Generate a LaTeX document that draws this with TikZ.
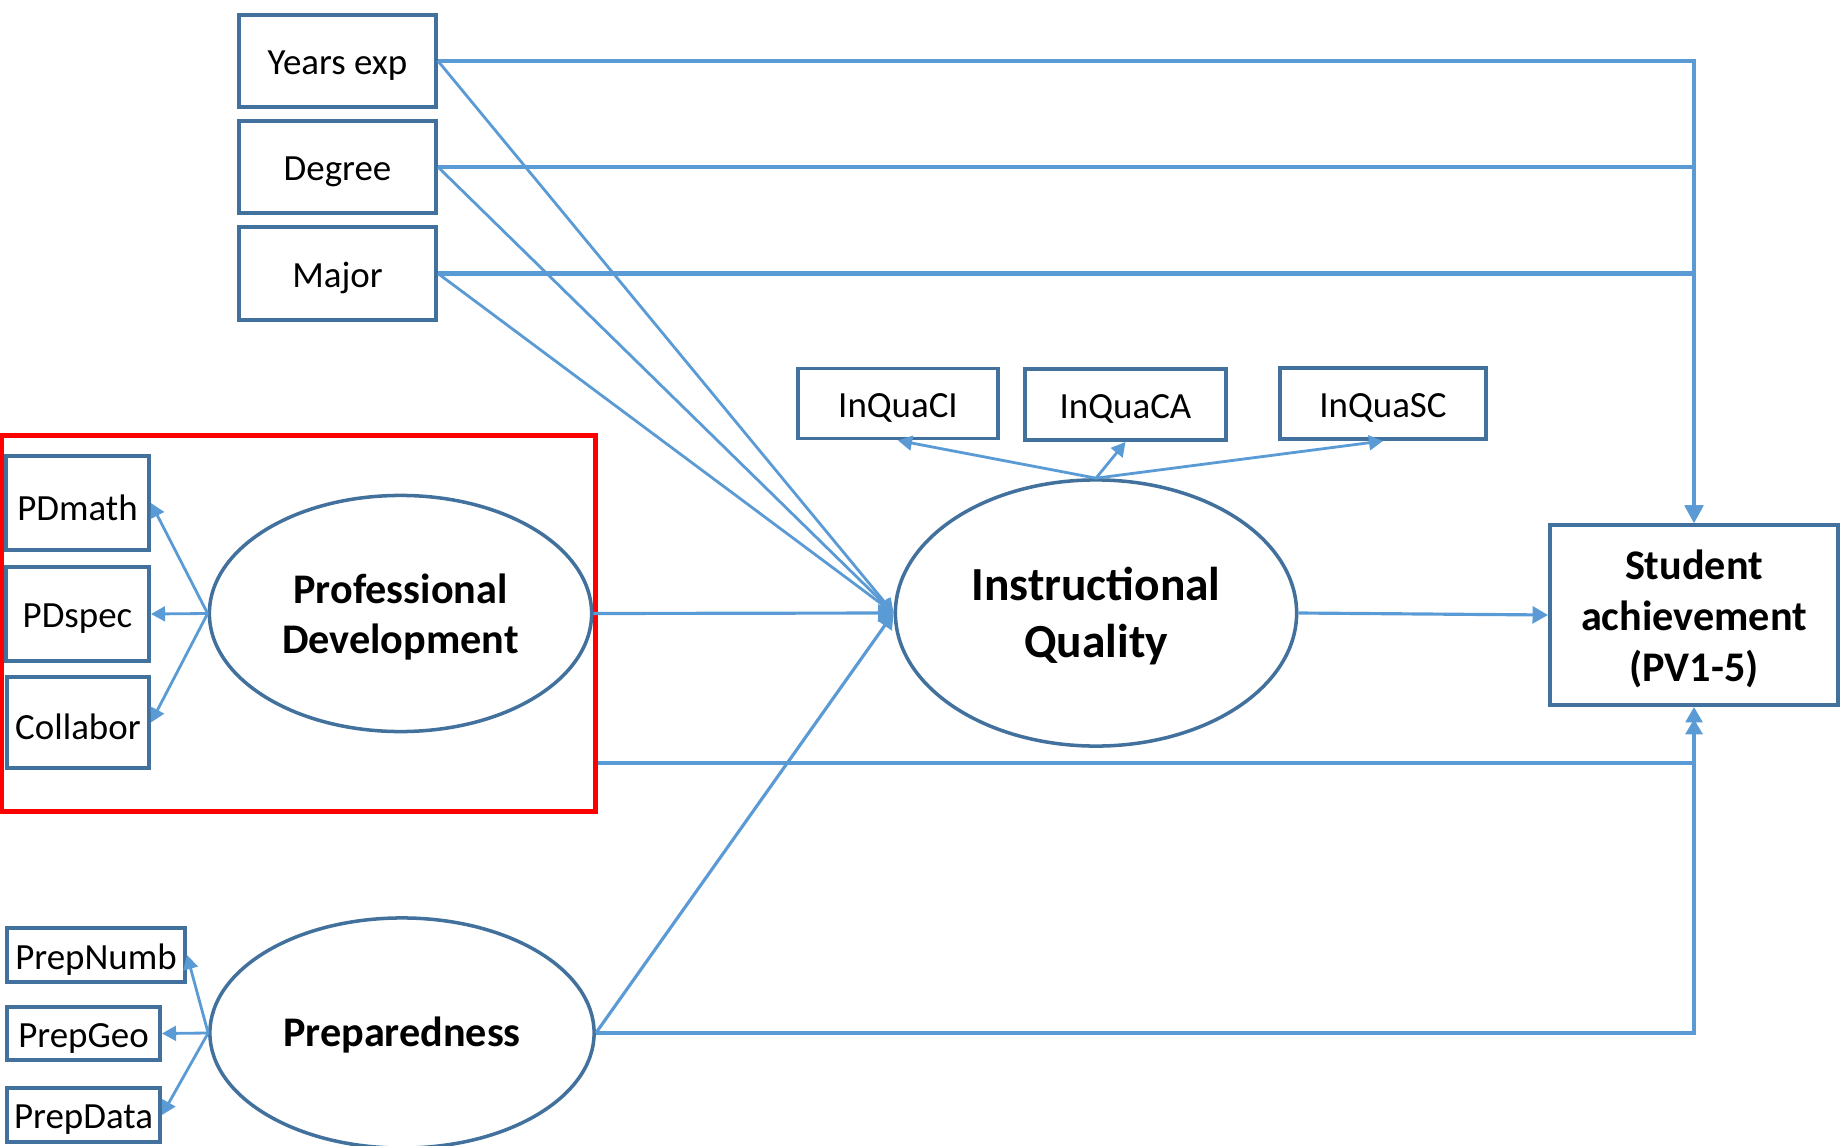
\documentclass[tikz,border=0pt]{standalone}
\usepackage{fontspec}
\setmainfont{Carlito}
\usetikzlibrary{arrows.meta,shapes.geometric}
\definecolor{linecol}{RGB}{91,155,213}
\definecolor{boxcol}{RGB}{65,113,156}
\newcommand{\lowertxt}[2][1.3pt]{\raisebox{-#1}[\height][\depth]{#2}}
\newcommand{\twolines}[3][1.3pt]{\lowertxt[#1]{\begin{tabular}{@{}c@{}}#2\\#3\end{tabular}}}
\begin{document}
\begin{tikzpicture}[x=0.01cm,y=-0.01cm,
  ind/.style={draw=boxcol,line width=1.1pt,rectangle,inner sep=0pt,font=\fontsize{10.5}{12.6}\selectfont},
  lat/.style={draw=boxcol,line width=1pt,ellipse,inner sep=0pt,font=\bfseries\fontsize{12}{14.4}\selectfont},
  redbox/.style={draw=red,line width=1.4pt,rectangle,inner sep=0pt},
  tarr/.style={draw=linecol,line width=0.8pt,-{Triangle[width=4.2pt,length=4pt]}},
  barr/.style={draw=linecol,line width=0.9pt,-{Triangle[width=4.8pt,length=4.4pt]}},
  karr/.style={draw=linecol,line width=1.4pt,-{Triangle[width=5pt,length=5pt]}},
]
\useasboundingbox (0,0) rectangle (1843,1146);

% group frame
\node[redbox,minimum width=5.93cm,minimum height=3.75cm] (pdgroup) at (298.5,623.5) {};

% observed teacher variables
\node[ind,minimum width=1.97cm,minimum height=0.92cm] (years) at (337.5,61) {\lowertxt{Years exp}};
\node[ind,minimum width=1.97cm,minimum height=0.92cm] (degree) at (337.5,167) {\lowertxt{Degree}};
\node[ind,minimum width=1.97cm,minimum height=0.93cm] (major) at (337.5,273.5) {\lowertxt{Major}};

% PD indicators
\node[ind,minimum width=1.43cm,minimum height=0.94cm] (pdmath) at (77.5,503) {\lowertxt{PDmath}};
\node[ind,minimum width=1.43cm,minimum height=0.94cm] (pdspec) at (77.5,614) {\lowertxt{PDspec}};
\node[ind,minimum width=1.42cm,minimum height=0.91cm] (collabor) at (78,722.5) {\lowertxt{Collabor}};

% latent variables
\node[lat,minimum width=3.82cm,minimum height=2.36cm] (pd) at (400.5,613.5) {\twolines[1.4pt]{Professional}{Development}};
\node[lat,minimum width=4.01cm,minimum height=2.66cm,font=\bfseries\fontsize{13.5}{16.3}\selectfont] (iq) at (1096,613) {\twolines[1.3pt]{Instructional}{Quality}};
\node[lat,minimum width=3.84cm,minimum height=2.30cm] (prep) at (402,1033) {\lowertxt[0.7pt]{Preparedness}};

% IQ indicators
\node[ind,minimum width=2.00cm,minimum height=0.70cm] (inquaci) at (898,403.5) {\lowertxt{InQuaCI}};
\node[ind,minimum width=2.01cm,minimum height=0.71cm] (inquaca) at (1125.5,404.5) {\lowertxt{InQuaCA}};
\node[ind,minimum width=2.06cm,minimum height=0.71cm] (inquasc) at (1383,403.5) {\lowertxt{InQuaSC}};

% Prep indicators
\node[ind,minimum width=1.78cm,minimum height=0.54cm] (prepnumb) at (96,955) {\lowertxt{PrepNumb}};
\node[ind,minimum width=1.53cm,minimum height=0.53cm] (prepgeo) at (83.5,1033.5) {\lowertxt{PrepGeo}};
\node[ind,minimum width=1.53cm,minimum height=0.54cm] (prepdata) at (83.5,1115) {\lowertxt{PrepData}};

% outcome
\node[ind,minimum width=2.88cm,minimum height=1.80cm,font=\bfseries\fontsize{12}{14.5}\selectfont] (student) at (1694,615)
  {\lowertxt[1.4pt]{\begin{tabular}{@{}c@{}}Student\\achievement\\(PV1-5)\end{tabular}}};

% direct paths to student achievement
\draw[karr] (years.east) -| (student.north);
\draw[karr] (degree.east) -| (student.north);
\draw[karr] (major.east) -| (student.north);

% paths to instructional quality
\draw[tarr] (years.east) -- (iq.west);
\draw[tarr] (degree.east) -- (iq.west);
\draw[tarr] (major.east) -- (iq.west);
\draw[barr] (pd.east) -- (iq.west);
\draw[barr] (prep.east) -- (iq.west);

% measurement arrows
\draw[tarr] (pd.west) -- (pdmath.east);
\draw[tarr] (pd.west) -- (pdspec.east);
\draw[tarr] (pd.west) -- (collabor.east);
\draw[tarr] (prep.west) -- (prepnumb.east);
\draw[tarr] (prep.west) -- (prepgeo.east);
\draw[tarr] (prep.west) -- (prepdata.east);
\draw[tarr] (iq.north) -- (inquaci.south);
\draw[tarr] (iq.north) -- (inquaca.south);
\draw[tarr] (iq.north) -- (inquasc.south);

% IQ to student achievement
\draw[barr] (iq.east) -- (student.west);

% PD group and preparedness to student achievement
\coordinate (pdout) at (pdgroup.east |- 0,763);
\draw[barr,line width=1.1pt,shorten >=0.12cm] (pdout) -| (student.south);
\draw[barr] (prep.east) -| (student.south);
\end{tikzpicture}
\end{document}
